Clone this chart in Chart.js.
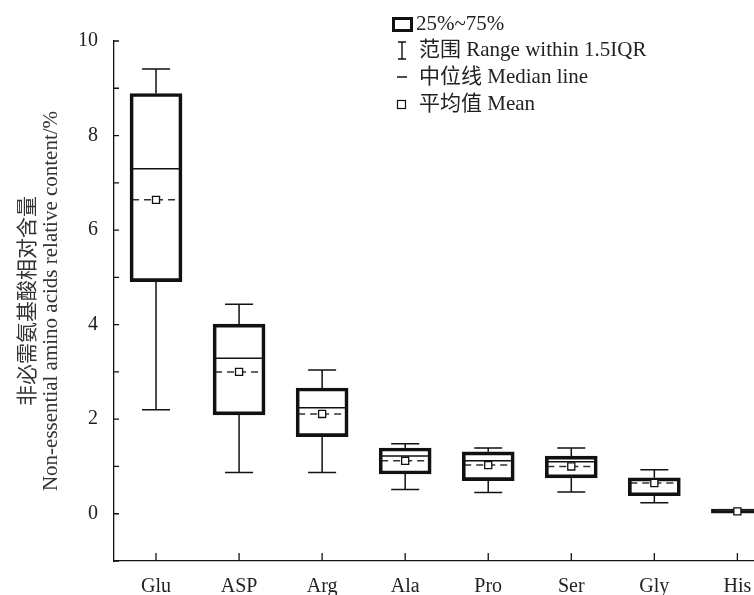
<!DOCTYPE html>
<html>
<head>
<meta charset="utf-8">
<title>Non-essential amino acids relative content</title>
<script src="https://cdn.jsdelivr.net/npm/chart.js@4.4.1/dist/chart.umd.min.js"></script>
<style>
    html, body { margin: 0; padding: 0; background: #fff; overflow: hidden; }
    canvas { display: block; }
</style>
</head>
<body>
<canvas id="chart" width="754" height="595"></canvas>
<script>
// values
const categories = ["Glu", "ASP", "Arg", "Ala", "Pro", "Ser", "Gly", "His"]
const whiskerHigh = [9.41, 4.43, 3.04, 1.48, 1.39, 1.39, 0.93, 0.10]
const q3 = [8.89, 4.01, 2.66, 1.39, 1.31, 1.22, 0.76, 0.10]
const median = [7.30, 3.29, 2.24, 1.22, 1.12, 1.10, 0.72, 0.05]
const mean = [6.64, 3.00, 2.11, 1.12, 1.03, 1.00, 0.65, 0.05]
const q1 = [4.91, 2.09, 1.63, 0.84, 0.70, 0.76, 0.38, 0.01]
const whiskerLow = [2.20, 0.87, 0.87, 0.51, 0.45, 0.46, 0.23, 0.01]

const yTitle = ["非必需氨基酸相对含量", "Non-essential amino acids relative content/%"]
const legendLabels = ["25%~75%", "范围 Range within 1.5IQR", "中位线 Median line", "平均值 Mean"]

const FONT = "'Liberation Serif', 'Times New Roman', 'Noto Sans CJK SC', serif"
const INK = "#111"

// whiskers, dashed mean lines, inward ticks and the legend
const boxExtras = {
    id: "boxExtras",
    beforeDatasetsDraw(chart) {
        const { ctx, scales: { x, y } } = chart
        ctx.save()
        ctx.strokeStyle = INK
        ctx.lineWidth = 1.5
        categories.forEach((c, i) => {
            const cx = x.getPixelForValue(i)
            const pairs = [[q3[i], whiskerHigh[i]], [q1[i], whiskerLow[i]]]
            pairs.forEach(([from, to]) => {
                if (Math.abs(to - from) < 0.02) return
                ctx.beginPath()
                ctx.moveTo(cx, y.getPixelForValue(from))
                ctx.lineTo(cx, y.getPixelForValue(to))
                ctx.moveTo(cx - 14, y.getPixelForValue(to))
                ctx.lineTo(cx + 14, y.getPixelForValue(to))
                ctx.stroke()
            })
            // dashed mean line across the box
            if (q3[i] - q1[i] > 0.2) {
                ctx.save()
                ctx.setLineDash([7, 5])
                ctx.strokeStyle = "#333"
                ctx.beginPath()
                ctx.moveTo(cx - 24, y.getPixelForValue(mean[i]))
                ctx.lineTo(cx + 24, y.getPixelForValue(mean[i]))
                ctx.stroke()
                ctx.restore()
            }
        })
        ctx.restore()
    },
    afterDraw(chart) {
        const { ctx, chartArea, scales: { x, y } } = chart
        ctx.save()
        ctx.strokeStyle = INK
        ctx.lineWidth = 1.3
        ctx.beginPath()
        y.ticks.forEach((t) => {
            const py = y.getPixelForValue(t.value)
            ctx.moveTo(chartArea.left, py)
            ctx.lineTo(chartArea.left + 5, py)
        })
        categories.forEach((c, i) => {
            const px = x.getPixelForValue(i)
            ctx.moveTo(px, chartArea.bottom)
            ctx.lineTo(px, chartArea.bottom - 8)
        })
        ctx.stroke()

        // legend
        const lx = 419
        const rows = [24, 50, 77, 104]
        ctx.lineWidth = 3
        ctx.strokeRect(393.5, 18.5, 18, 12)
        ctx.lineWidth = 1.4
        ctx.beginPath()
        ctx.moveTo(402, 42); ctx.lineTo(402, 59)
        ctx.moveTo(398, 42); ctx.lineTo(406, 42)
        ctx.moveTo(398, 59); ctx.lineTo(406, 59)
        ctx.moveTo(397, 77); ctx.lineTo(407, 77)
        ctx.stroke()
        ctx.lineWidth = 1.2
        ctx.strokeRect(397.5, 100.5, 8, 8)

        ctx.fillStyle = "#222"
        ctx.font = "21px " + FONT
        ctx.textBaseline = "middle"
        ctx.textAlign = "left"
        legendLabels.forEach((label, i) => {
            ctx.fillText(label, i === 0 ? 416 : lx, rows[i])
        })
        ctx.restore()
    },
}

const xs = categories.map((c, i) => i)

const data = {
    datasets: [
        {
            type: "scatter",
            label: "Mean",
            data: xs.map((i) => ({ x: i, y: mean[i] })),
            pointStyle: "rect",
            radius: 5,
            backgroundColor: "#fff",
            borderColor: INK,
            borderWidth: 1.3,
        },
        {
            type: "scatter",
            label: "Median line",
            data: xs.map((i) => ({ x: i, y: median[i] })),
            pointStyle: "line",
            radius: 24,
            borderColor: INK,
            borderWidth: 1.5,
        },
        {
            type: "bar",
            label: "25%~75%",
            data: xs.map((i) => ({ x: i, y: [q1[i], q3[i]] })),
            barThickness: 52,
            backgroundColor: "rgba(0,0,0,0)",
            borderColor: INK,
            borderWidth: 3,
            borderSkipped: false,
        },
    ],
}

const options = {
    responsive: false,
    animation: false,
    events: [],
    layout: { autoPadding: false, padding: { top: 41, right: 0, bottom: 0, left: 0 } },
    plugins: {
        legend: { display: false },
        title: { display: false },
        tooltip: { enabled: false },
    },
    scales: {
        x: {
            type: "linear",
            offset: false,
            min: -0.506,
            max: 7.2,
            grid: { display: false, drawTicks: false, offset: false },
            border: { display: true, color: INK, width: 1.3 },
            afterBuildTicks: (scale) => {
                scale.ticks = xs.map((i) => ({ value: i }))
            },
            afterFit: (scale) => {
                scale.height = 34
                scale.paddingLeft = 0
                scale.paddingRight = 0
            },
            ticks: {
                autoSkip: false,
                maxRotation: 0,
                padding: 14,
                color: "#222",
                font: { family: FONT, size: 20 },
                callback: (v) => categories[v],
            },
        },
        y: {
            min: -1,
            max: 10,
            grid: { display: false, drawTicks: false },
            border: { display: true, color: INK, width: 1.3 },
            afterFit: (scale) => {
                scale.width = 114
                scale.paddingTop = 0
                scale.paddingBottom = 0
            },
            ticks: {
                stepSize: 1,
                autoSkip: false,
                padding: 16,
                color: "#222",
                font: { family: FONT, size: 20 },
                callback: (v) => (v % 2 === 0 ? v : ""),
            },
            title: {
                display: true,
                text: yTitle,
                color: "#333",
                font: { family: FONT, size: 21, lineHeight: 1.1 },
                padding: { top: 17, bottom: 0 },
            },
        },
    },
}

new Chart(document.getElementById("chart"), {
    type: "bar",
    data: data,
    options: options,
    plugins: [boxExtras],
})
</script>
</body>
</html>
